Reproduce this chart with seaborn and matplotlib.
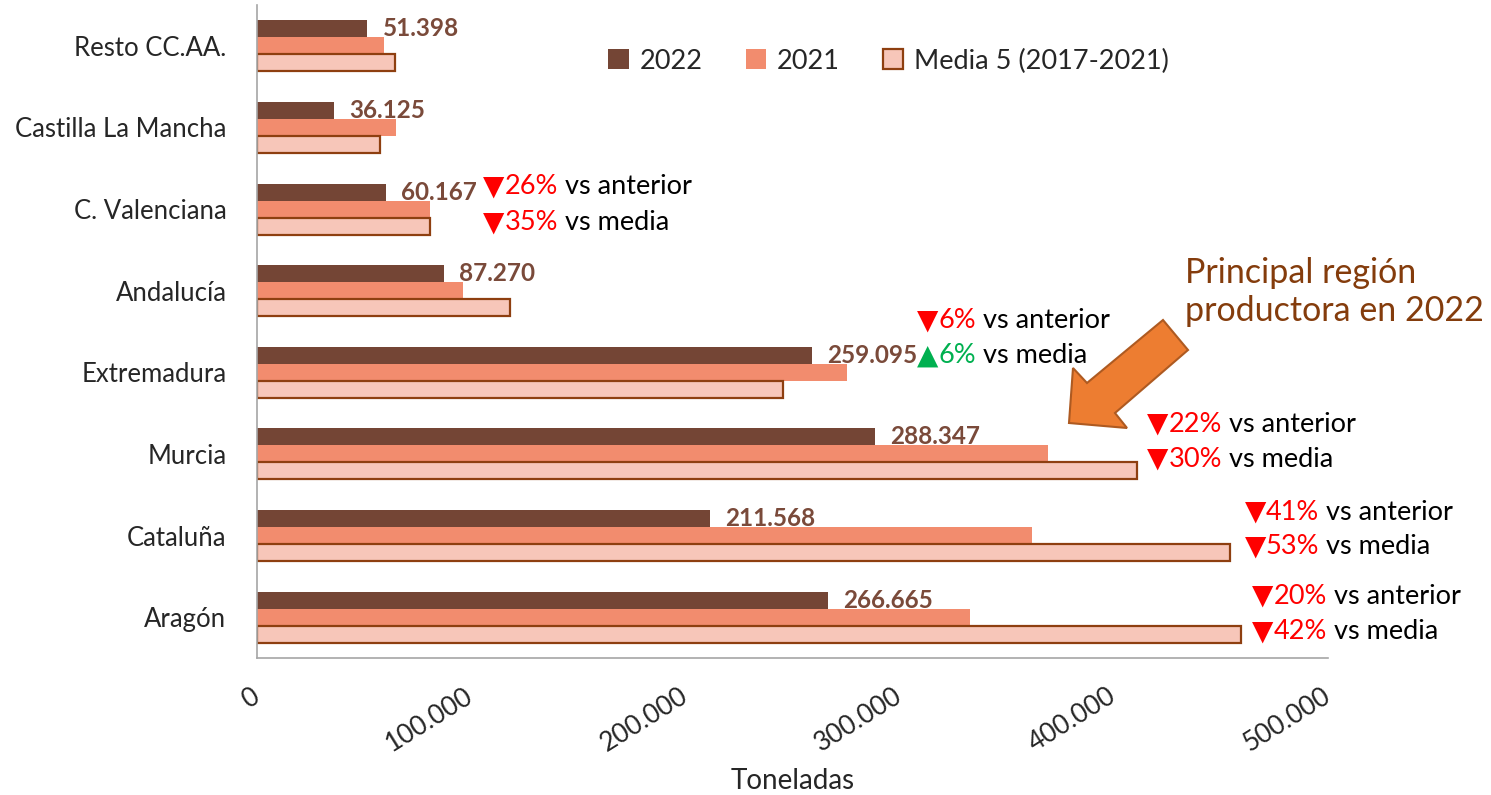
# Producción por comunidad autónoma: 2022 vs 2021 vs media 5 años.

import pandas as pd
import numpy as np
import seaborn as sns
import matplotlib.pyplot as plt
from matplotlib.patches import Polygon

regiones = ['Resto CC.AA.', 'Castilla La Mancha', 'C. Valenciana', 'Andalucía',
            'Extremadura', 'Murcia', 'Cataluña', 'Aragón']
v2022 = [51398, 36125, 60167, 87270, 259095, 288347, 211568, 266665]
v2021 = [59300, 64900, 80600, 96000, 275400, 369100, 361600, 333000]
media5 = [64400, 57400, 80800, 118100, 245400, 410700, 454300, 459200]
series = ['2022', '2021', 'Media 5 (2017-2021)']
etiquetas_2022 = ['51.398', '36.125', '60.167', '87.270', '259.095', '288.347', '211.568', '266.665']
xticks = [0, 100000, 200000, 300000, 400000, 500000]
xticklabels = ['0', '100.000', '200.000', '300.000', '400.000', '500.000']

# variaciones anotadas a la derecha de algunas regiones
anot_region = ['C. Valenciana', 'Extremadura', 'Murcia', 'Cataluña', 'Aragón']
anot_anterior = ['26%', '6%', '22%', '41%', '20%']
anot_media = ['35%', '6%', '30%', '53%', '42%']
anot_media_sube = [False, True, False, False, False]
anot_x = [105500, 308000, 415500, 461000, 464500]
anot_dy = [(-0.28, 0.16), (-0.64, -0.21), (-0.37, 0.06), (-0.29, 0.13), (-0.26, 0.17)]

c2022 = '#744535'
c2021 = '#F28C6E'
cmedia = '#F7C6B9'
cborde = '#8E3F10'
cgris = '#A6A6A6'
fam = ['Lato', 'DejaVu Sans']

sns.set_style('white')
plt.rcParams['font.family'] = fam

df = pd.DataFrame({
    'region': regiones * 3,
    'serie': [series[0]] * 8 + [series[1]] * 8 + [series[2]] * 8,
    'toneladas': v2022 + v2021 + media5,
})

fig = plt.figure(figsize=(14.91, 7.95), dpi=100)
ax = fig.add_axes([0.1724, 0.1723, 0.7183, 0.8214])

sns.barplot(data=df, y='region', x='toneladas', hue='serie', orient='h',
            palette=[c2022, c2021, cmedia], width=0.625, gap=0, saturation=1,
            legend=False, ax=ax)

for p in ax.containers[2].patches:
    p.set_edgecolor(cborde)
    p.set_linewidth(1.6)
for p in ax.containers[0].patches + ax.containers[1].patches:
    p.set_linewidth(0)

ax.bar_label(ax.containers[0], labels=etiquetas_2022, padding=11, fontsize=17.5,
             fontweight='bold', color='#7A4A3A')

ax.set_xlim(0, 500000)
ax.set_ylim(7.5, -0.5)
ax.set_xticks(xticks)
ax.set_xticklabels(xticklabels, rotation=32, ha='right', va='center',
                   rotation_mode='anchor', fontsize=19)
ax.set_yticks(range(len(regiones)))
ax.set_yticklabels(regiones, fontsize=18.5)
ax.set_ylabel('')
ax.set_xlabel('Toneladas', fontsize=20)
ax.xaxis.set_label_coords(0.5, -0.168)
ax.tick_params(axis='y', direction='out', length=6, width=1, color=cgris, pad=16)
ax.tick_params(axis='x', direction='in', length=7, width=1, color=cgris, pad=26)
for s in ['top', 'right']:
    ax.spines[s].set_visible(False)
for s in ['left', 'bottom']:
    ax.spines[s].set_color(cgris)
    ax.spines[s].set_linewidth(1.2)

handles = [c.patches[0] for c in ax.containers]
fig.legend(handles, series, loc='center', bbox_to_anchor=(0.596, 0.923), ncol=3,
           frameon=False, fontsize=19.5, handlelength=0.75, handleheight=0.75,
           handletextpad=0.4, columnspacing=1.6)


def texto_color(x, y, partes):
    t = ax.text(x, y, partes[0][0], color=partes[0][1], fontsize=20,
                va='center', ha='left')
    for txt, col in partes[1:]:
        t = ax.annotate(txt, xy=(1, 0), xycoords=t, va='bottom', ha='left',
                        color=col, fontsize=19.5)
    return t


for reg, ant, med, sube, x, dy in zip(anot_region, anot_anterior, anot_media,
                                      anot_media_sube, anot_x, anot_dy):
    i = regiones.index(reg)
    texto_color(x, i + dy[0], [('▼', 'red'), (ant, 'red'), (' vs anterior', 'black')])
    if sube:
        texto_color(x, i + dy[1], [('▲', '#00B050'), (med, '#00B050'), (' vs media', 'black')])
    else:
        texto_color(x, i + dy[1], [('▼', 'red'), (med, 'red'), (' vs media', 'black')])

# flecha hacia Murcia
W, H = 1491, 795
flecha_px = [(1069, 423), (1073, 368), (1087, 383), (1163, 320), (1188, 350),
             (1115, 413), (1127, 428)]
flecha = Polygon([(x / W, 1 - y / H) for x, y in flecha_px], closed=True,
                 transform=fig.transFigure, facecolor='#ED7D31',
                 edgecolor='#AE5A21', linewidth=1.5)
fig.add_artist(flecha)
fig.text(1185 / W, 1 - 292 / H, 'Principal región\nproductora en 2022', fontsize=24.5,
         color='#843C0C', ha='left', va='center', linespacing=1.25)

fig.savefig('out.png', dpi=100)
